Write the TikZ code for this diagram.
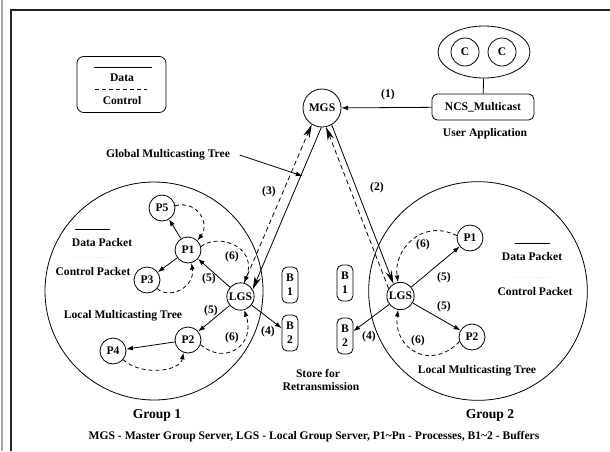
\documentclass[tikz,border=0pt]{standalone}
\usepackage{fontspec}
\setmainfont{Liberation Serif}
\usetikzlibrary{arrows.meta,shapes.geometric}
\begin{document}
\begin{tikzpicture}[x=0.75pt,y=-0.75pt,
  font=\fontsize{8.7}{10}\selectfont\bfseries, line width=0.6pt,
  circ/.style={draw,circle,inner sep=0pt,minimum size=19.5pt},
  dat/.style={-{Latex[length=5pt,width=3.6pt]}},
  ctl/.style={dash pattern=on 3pt off 2.2pt, -{Latex[length=5pt,width=3.6pt]}},
  bigd/.style={-{Stealth[length=10pt,width=5pt]}},
  bigc/.style={dash pattern=on 3.5pt off 2.5pt,-{Stealth[length=10pt,width=5pt]}},
  buf/.style={draw,rounded corners=4pt,minimum width=12pt,minimum height=27pt,inner sep=0pt,align=center,font=\fontsize{8.7}{10.5}\selectfont\bfseries},
  lbl/.style={inner sep=0pt},
  grp/.style={inner sep=0pt,font=\fontsize{10.2}{12}\selectfont\bfseries}]
\useasboundingbox (0,0) rectangle (610,451);
% page frame
\draw[gray!70,line width=1.1pt] (2,0) -- (2,451);
\draw[black!85,line width=0.8pt] (610,10) -- (11,10) -- (11,451);
% legend
\node[draw,rounded corners=5pt,minimum width=66.75pt,minimum height=42pt] (LEG) at (121.5,84.5) {};
\node[lbl] (LD) at (122,78) {Data};
\node[lbl] (LC) at (122,101) {Control};
\draw (94,67) -- (152,67);
\draw[dash pattern=on 3pt off 2.2pt] (95,89) -- (147,89);
% user application
\node[circ,minimum size=28.5pt] (MGS) at (322,108) {MGS};
\node[draw,ellipse,minimum width=69pt,minimum height=39pt] (UA) at (484,52) {};
\node[circ,minimum size=21pt] (C1) at (465,52) {C};
\node[circ,minimum size=21pt] (C2) at (502,52) {C};
\node[draw,rounded corners=4pt,minimum width=76.5pt,minimum height=19.5pt,inner sep=0pt] (NCS) at (483,107) {NCS\_Multicast};
\node[lbl] (UAL) at (485,134) {User Application};
\draw (UA) -- (NCS);
\draw[dat] (NCS) -- (MGS);
\node[lbl] (L1) at (388,95) {(1)};
% groups
\node[draw,circle,minimum size=163.5pt] (G1) at (154,291) {};
\node[draw,circle,minimum size=164pt] (G2) at (478,291) {};
\node[grp] (G1L) at (157,415) {Group 1};
\node[grp] (G2L) at (490,415) {Group 2};
% group 1 nodes
\node[circ,minimum size=20.5pt] (LGSa) at (240.5,296.5) {LGS};
\node[circ] (P1a) at (188,250) {P1};
\node[circ] (P5) at (162,208) {P5};
\node[circ] (P3) at (147,280) {P3};
\node[circ] (P2a) at (188,340) {P2};
\node[circ] (P4) at (113,351) {P4};
% group 2 nodes
\node[circ,minimum size=20.5pt] (LGSb) at (400.5,296) {LGS};
\node[circ] (P1b) at (470,238) {P1};
\node[circ] (P2b) at (472,337) {P2};
% buffers
\node[buf] (B1a) at (290,285) {B\\1};
\node[buf] (B2a) at (290,333) {B\\2};
\node[buf] (B1b) at (345,283) {B\\1};
\node[buf] (B2b) at (345,336) {B\\2};
\node[lbl] (ST1) at (318,373) {Store for};
\node[lbl] (ST2) at (321,387) {Retransmission};
% MGS links
\draw[bigd] (MGS.268) -- (LGSa.30);
\draw[bigc] (LGSa.75) -- (MGS.238);
\draw[bigd] (MGS.300) -- (LGSb.120);
\draw[bigc] (LGSb.148) -- (MGS.282);
\node[lbl] (L3) at (269,192) {(3)};
\node[lbl] (L2) at (377,188) {(2)};
\node[lbl] (GMT) at (168,155) {Global Multicasting Tree};
\coordinate (GMTtip) at (302.5,176);
\draw[dat] ([xshift=7pt]GMT.east) -- (GMTtip);
% group 1 data
\draw[dat] (LGSa) -- (P1a);
\draw[dat] (P1a) -- (P5);
\draw[dat] (P1a) -- (P3);
\draw[dat] (LGSa) -- (P2a);
\draw[dat] (P2a) -- (P4);
\draw[dat] (LGSa) -- (B2a.150);
% group 1 control
\draw[ctl] (P5.10) .. controls (198,200) and (210,224) .. (P1a.45);
\draw[ctl] (P3.-40) .. controls (170,300) and (195,287) .. (P1a.-75);
\draw[ctl] (P1a.15) .. controls (220,232) and (258,248) .. (LGSa.75);
\draw[ctl] (P2a.-20) .. controls (225,366) and (256,345) .. (LGSa.-75);
\draw[ctl] (P4.-40) .. controls (140,376) and (180,372) .. (P2a.-110);
% group 1 labels
\node[lbl] (DPa) at (102,243) {Data Packet};
\node[lbl] (CPa) at (93,272) {Control Packet};
\node[lbl] (LMa) at (123,316) {Local Multicasting Tree};
\draw (75,229) -- (110,229);
\draw[black!12,dotted] (75,257) -- (110,257);
\node[lbl] (a6u) at (232,257) {(6)};
\node[lbl] (a5u) at (209,279) {(5)};
\node[lbl] (a5l) at (211,311) {(5)};
\node[lbl] (a6l) at (232,338) {(6)};
\node[lbl] (a4) at (268,332) {(4)};
% group 2 data
\draw[dat] (LGSb) -- (P1b);
\draw[dat] (LGSb) -- (P2b);
\draw[dat] (LGSb) -- (B2b.30);
% group 2 control
\draw[ctl] (P1b.170) .. controls (422,218) and (393,250) .. (LGSb.100);
\draw[ctl] (P2b.200) .. controls (430,372) and (393,348) .. (LGSb.-100);
% group 2 labels
\node[lbl] (DPb) at (532,257) {Data Packet};
\node[lbl] (CPb) at (535,292) {Control Packet};
\node[lbl] (LMb) at (477,371) {Local Multicasting Tree};
\draw (515,243) -- (550,243);
\draw[black!12,dotted] (515,277) -- (550,277);
\node[lbl] (b6u) at (423,245) {(6)};
\node[lbl] (b5u) at (444,278) {(5)};
\node[lbl] (b5l) at (444,307) {(5)};
\node[lbl] (b6l) at (418,341) {(6)};
\node[lbl] (b4) at (369,337) {(4)};
% footer
\node[lbl] (FT) at (314,437) {MGS - Master Group Server, LGS - Local Group Server, P1\textasciitilde Pn - Processes, B1\textasciitilde 2 - Buffers};
\end{tikzpicture}
\end{document}
